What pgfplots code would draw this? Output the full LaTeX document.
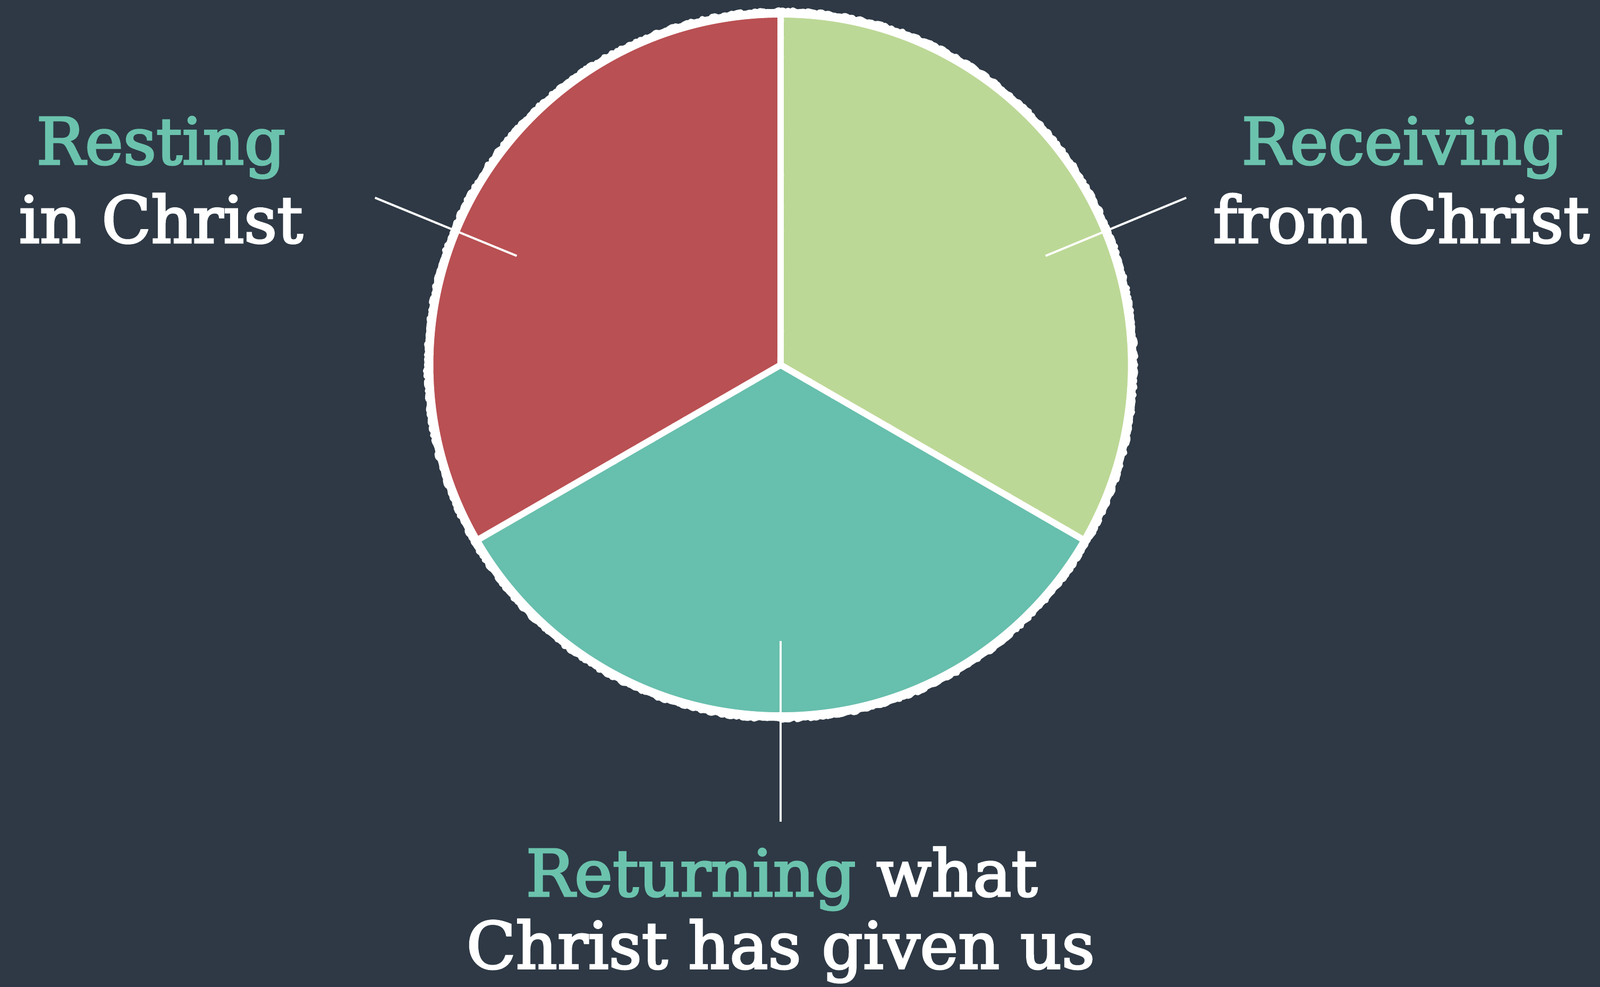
\documentclass[border=0pt]{standalone}
\usepackage{pgfplots}
\pgfplotsset{compat=1.18}
\usepackage{pgfplotstable}
\usepackage{fontspec}
\setmainfont{DejaVu Serif}
\newfontfamily\labelfont{DejaVu Serif}[FakeBold=3]
\usetikzlibrary{decorations.pathmorphing}

\definecolor{bg}{HTML}{2E3945}
\definecolor{pieRed}{HTML}{B95053}
\definecolor{pieGreen}{HTML}{BCD896}
\definecolor{pieTeal}{HTML}{67BFAD}
\definecolor{txtTeal}{HTML}{6BC3AD}

% shares of the three parts, clockwise from the top
\pgfplotstableread[col sep=comma]{
label,share
Receiving,1
Returning,1
Resting,1
}\piedata

\begin{document}
\begin{tikzpicture}
\pgfplotstablegetelem{0}{share}\of\piedata\pgfmathsetmacro\sA{\pgfplotsretval}
\pgfplotstablegetelem{1}{share}\of\piedata\pgfmathsetmacro\sB{\pgfplotsretval}
\pgfplotstablegetelem{2}{share}\of\piedata\pgfmathsetmacro\sC{\pgfplotsretval}
\pgfmathsetmacro\tot{\sA+\sB+\sC}
\pgfmathsetmacro\aA{90}
\pgfmathsetmacro\aB{\aA-360*\sA/\tot}
\pgfmathsetmacro\aC{\aB-360*\sB/\tot}
\pgfmathsetmacro\aD{\aC-360*\sC/\tot}
\begin{axis}[
    width=15.68cm, height=9.65cm, scale only axis,
    xmin=0, xmax=1568, ymin=0, ymax=965,
    hide axis, clip=false,
]
\fill[bg] (axis cs:-1,-2) rectangle (axis cs:1569,966);

% sectors
\fill[pieGreen] (axis cs:765,608) -- ++(\aA:3.45cm) arc[start angle=\aA, end angle=\aB, radius=3.45cm] -- cycle;
\fill[pieTeal]  (axis cs:765,608) -- ++(\aB:3.45cm) arc[start angle=\aB, end angle=\aC, radius=3.45cm] -- cycle;
\fill[pieRed]   (axis cs:765,608) -- ++(\aC:3.45cm) arc[start angle=\aC, end angle=\aD, radius=3.45cm] -- cycle;

% chalky white separators and rim
\begin{scope}[white, line join=round,
              decoration={random steps, segment length=0.7pt, amplitude=0.35pt}]
\draw[line width=1.8pt] (axis cs:765,608) -- ++(\aA:3.45cm);
\draw[line width=1.8pt] (axis cs:765,608) -- ++(\aB:3.45cm);
\draw[line width=1.8pt] (axis cs:765,608) -- ++(\aC:3.45cm);
\draw[decorate, line width=1.2pt] (axis cs:765,608) -- ++(\aA:3.45cm);
\draw[decorate, line width=1.2pt] (axis cs:765,608) -- ++(\aB:3.45cm);
\draw[decorate, line width=1.2pt] (axis cs:765,608) -- ++(\aC:3.45cm);
\draw[line width=2.4pt] (axis cs:765,608) circle[radius=3.45cm];
\draw[decorate, line width=1.6pt] (axis cs:765,608) circle[radius=3.47cm];
\end{scope}

% leader lines
\draw[white, line width=0.6pt] (axis cs:367,772) -- (axis cs:506,715);
\draw[white, line width=0.6pt] (axis cs:1163,772) -- (axis cs:1025,715);
\draw[white, line width=0.6pt] (axis cs:765,337) -- (axis cs:765,160);

% labels
\begin{scope}[every node/.style={anchor=base, inner sep=0pt, font=\labelfont\fontsize{18}{21}\selectfont}]
\node[txtTeal] at (axis cs:157,805) {Resting};
\node[white]   at (axis cs:157,728) {in Christ};
\node[txtTeal] at (axis cs:1375,805) {Receiving};
\node[white]   at (axis cs:1374,728) {from Christ};
\node[white]   at (axis cs:766,87) {\textcolor{txtTeal}{Returning} what};
\node[white]   at (axis cs:765,16) {Christ has given us};
\end{scope}
\end{axis}
\end{tikzpicture}
\end{document}
